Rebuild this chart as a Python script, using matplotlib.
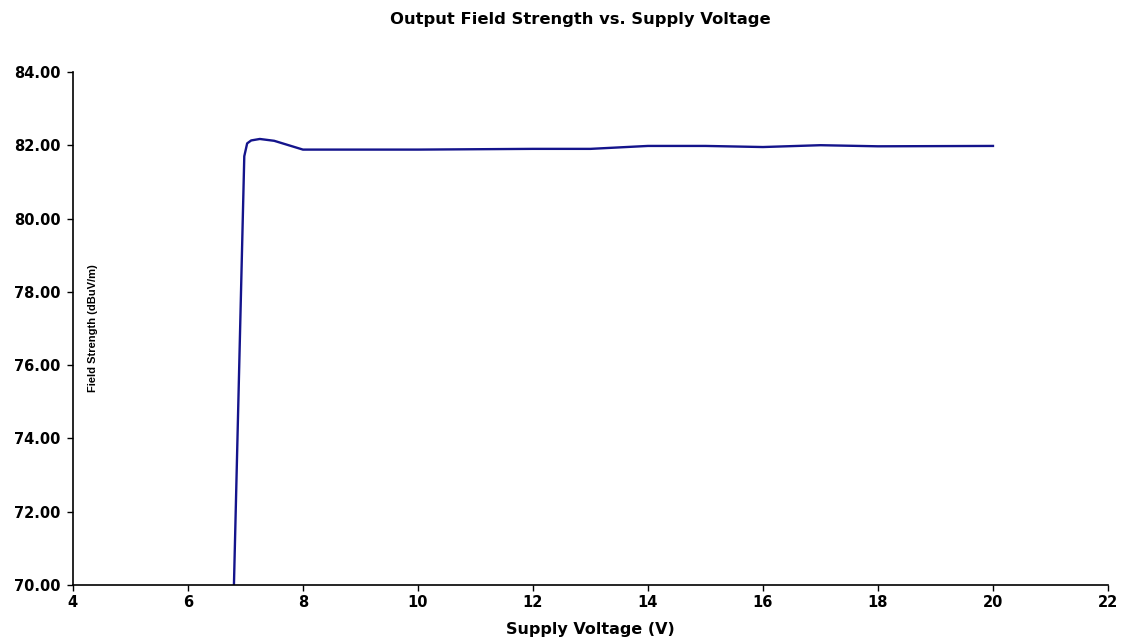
import matplotlib
matplotlib.use("Agg")
import matplotlib.pyplot as plt

# Datos
voltage = [6.8, 6.98, 7.03, 7.1, 7.25, 7.5, 8.0, 10.0, 12.0, 13.0, 14.0, 15.0, 16.0, 17.0, 18.0, 20.0]
field = [70.0, 81.7, 82.05, 82.13, 82.17, 82.12, 81.88, 81.88, 81.9, 81.9, 81.98, 81.98, 81.95, 82.0, 81.97, 81.98]

x_ticks = [4, 6, 8, 10, 12, 14, 16, 18, 20, 22]
y_ticks = [70, 72, 74, 76, 78, 80, 82, 84]

plt.rcParams["font.family"] = ["DejaVu Sans"]

fig = plt.figure(figsize=(11.22, 6.42), dpi=100)
ax = fig.add_axes([0.065, 0.0888, 0.9225, 0.7992])

ax.plot(voltage, field, color="#14148c", linewidth=1.7, solid_joinstyle="round")

ax.set_xlim(4, 22)
ax.set_ylim(70, 84)
ax.set_xticks(x_ticks)
ax.set_yticks(y_ticks)
ax.set_yticklabels([f"{v:.2f}" for v in y_ticks])
ax.tick_params(labelsize=10.5, length=4, width=1, direction="out")
ax.tick_params(axis="y", pad=5)
for lbl in ax.get_xticklabels() + ax.get_yticklabels():
    lbl.set_fontweight("bold")

ax.spines["top"].set_visible(False)
ax.spines["right"].set_visible(False)
ax.spines["left"].set_linewidth(1.2)
ax.spines["bottom"].set_linewidth(1.2)

ax.set_xlabel("Supply Voltage (V)", fontsize=11.5, fontweight="bold", labelpad=8)
ax.text(0.019, 0.5, "Field Strength (dBuV/m)", transform=ax.transAxes, rotation=90,
        ha="center", va="center", fontsize=8, fontweight="bold",
        family=["Liberation Sans", "DejaVu Sans"])

fig.text(0.517, 0.970, "Output Field Strength vs. Supply Voltage", ha="center", va="center",
         fontsize=11.8, fontweight="bold")

plt.savefig("out.png", dpi=100)
